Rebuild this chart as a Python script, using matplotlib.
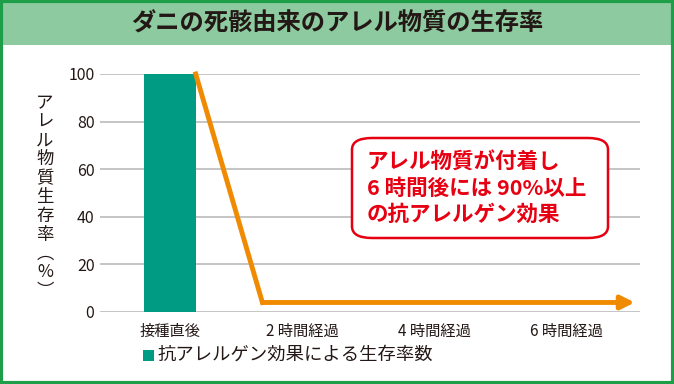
import matplotlib.pyplot as plt
from matplotlib.patches import Rectangle, FancyBboxPatch

plt.rcParams['font.family'] = ['Noto Sans CJK JP', 'DejaVu Sans']

categories = ['接種直後', '2 時間経過', '4 時間経過', '6 時間経過']
bar_values = [100, 0, 0, 0]
line_values = [100, 4, 4, 4]
yticks = [0, 20, 40, 60, 80, 100]

title = 'ダニの死骸由来のアレル物質の生存率'
ylabel = 'アレル物質生存率（%）'
legend_label = '抗アレルゲン効果による生存率数'
callout = 'アレル物質が付着し\n6 時間後には 90%以上\nの抗アレルゲン効果'

teal = '#009B83'
orange = '#F08A00'
red = '#E60012'
green_border = '#1E9E48'
banner = '#8DCA9F'

fig = plt.figure(figsize=(6.74, 3.84), dpi=100)

# title banner and outer frame
fig.patches.append(Rectangle((0, 1 - 45 / 384), 1, 45 / 384, transform=fig.transFigure,
                             facecolor=banner, edgecolor='none', zorder=0))
fig.patches.append(Rectangle((0.002, 0.003), 0.996, 0.994, transform=fig.transFigure,
                             facecolor='none', edgecolor=green_border, linewidth=3, zorder=5))
fig.text(0.5, 1 - 23 / 384, title, ha='center', va='center', fontsize=17.5,
         fontweight='bold', color='#231815')

ax = fig.add_axes([100 / 674, 1 - 312 / 384, 540 / 674, 238 / 384])
x = list(range(len(categories)))
bar_w = 0.39
ax.bar(x, bar_values, width=bar_w, color=teal, zorder=2)

ax.set_ylim(0, 100)
ax.set_xlim(-0.53, 3.56)
ax.set_yticks(yticks)
ax.set_xticks(x)
ax.set_xticklabels(categories, fontsize=11, color='#231815')
ax.tick_params(axis='y', labelsize=11.5, labelcolor='#231815', length=0, pad=4)
ax.tick_params(axis='x', length=0, pad=8)
ax.grid(axis='y', color='#BBBBBB', linewidth=1.2, zorder=1)
for s in ax.spines.values():
    s.set_visible(False)

# survival line: from top of the first bar, drop, then arrow to the right
lx = [x[0] + bar_w / 2, x[1] - 0.3]
ly = [line_values[0], line_values[1]]
ax.plot(lx, ly, color=orange, linewidth=3.5, clip_on=False, zorder=3,
        solid_joinstyle='round')
ax.annotate('', xy=(x[3] + 0.52, line_values[3]), xytext=(lx[1], line_values[1]),
            arrowprops=dict(arrowstyle='-|>,head_length=0.8,head_width=0.4',
                            color=orange, linewidth=3.5, shrinkA=0, shrinkB=0),
            annotation_clip=False, zorder=3)

# vertical y label (parentheses in vertical form)
vchars = [{'（': '︵', '）': '︶'}.get(c, c) for c in ylabel]
fig.text(45 / 674, 1 - 197 / 384, '\n'.join(vchars), ha='center', va='center',
         fontsize=12.5, linespacing=1.06, color='#231815')

# callout box
box = FancyBboxPatch((352 / 674, 1 - 238 / 384), 256 / 674, 100 / 384,
                     boxstyle='round,pad=0,rounding_size=0.03', transform=fig.transFigure,
                     facecolor='white', edgecolor=red, linewidth=1.8, zorder=6)
fig.patches.append(box)
fig.text(367 / 674, 1 - 188 / 384, callout, ha='left', va='center', fontsize=15.5,
         fontweight='bold', color=red, linespacing=1.3, zorder=7)

# legend
fig.patches.append(Rectangle((143 / 674, 1 - 361 / 384), 11 / 674, 11 / 384,
                             transform=fig.transFigure, facecolor=teal, edgecolor='none'))
fig.text(158 / 674, 1 - 355 / 384, legend_label, ha='left', va='center',
         fontsize=13.2, color='#231815')

fig.savefig('out.png', dpi=100)
